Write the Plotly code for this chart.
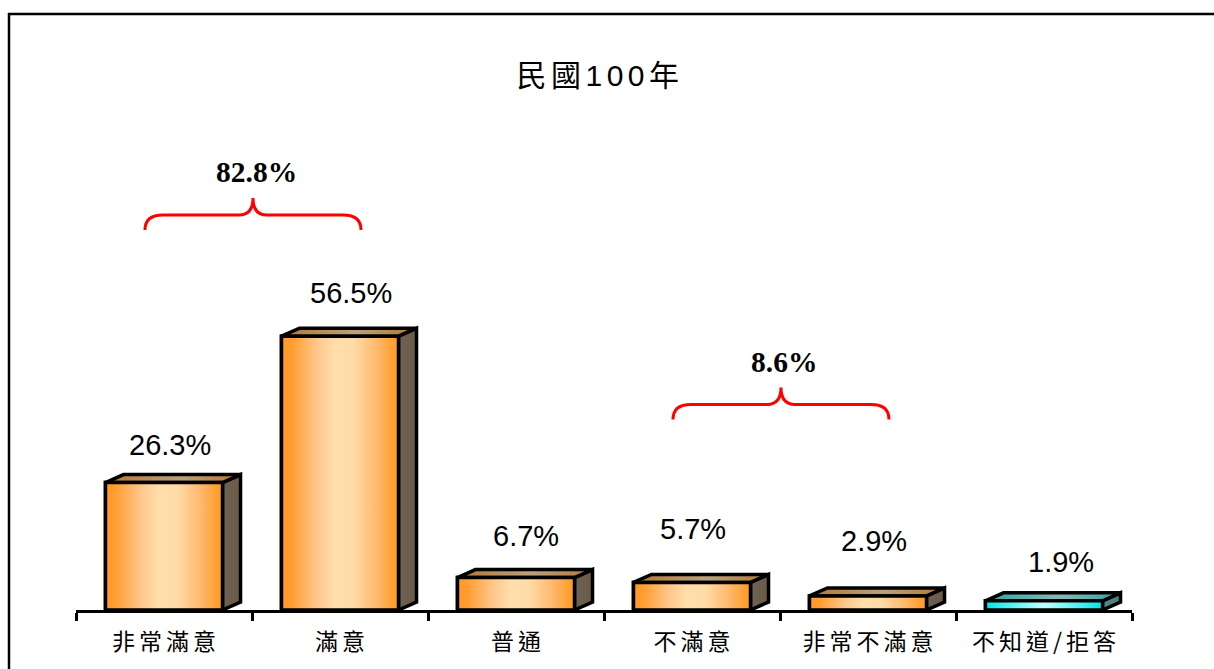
import plotly.graph_objects as go

categories = ["非常滿意", "滿意", "普通", "不滿意", "非常不滿意", "不知道/拒答"]
values = [26.3, 56.5, 6.7, 5.7, 2.9, 1.9]
value_labels = ["26.3%", "56.5%", "6.7%", "5.7%", "2.9%", "1.9%"]
label_xshift = [6, 11, 10, 1, 6, 17]
label_yshift = [38, 43, 42, 53, 55, 39]
group_totals = ["82.8%", "8.6%"]
group_spans = [(0, 1), (3, 4)]
group_base = [78.4, 39.3]

ORANGE_FRONT = [[0, "#FF981F"], [0.1, "#FFA036"], [0.3, "#FFC68A"], [0.45, "#FFDDAB"], [0.62, "#FFDBA6"],
                [0.82, "#FFB76A"], [1, "#FF981F"]]
ORANGE_TOP = [[0, "#B5772F"], [0.55, "#B9A17F"], [1, "#B5772F"]]
ORANGE_SIDE = [[0, "#6E6255"], [1, "#6B5A45"]]
CYAN_FRONT = [[0, "#00E6E6"], [0.5, "#C4FFFF"], [1, "#00E6E6"]]
CYAN_TOP = [[0, "#2FA5A5"], [0.55, "#8CB6B6"], [1, "#2FA5A5"]]
CYAN_SIDE = [[0, "#558A8A"], [1, "#4A7C7C"]]
front_scales = [ORANGE_FRONT] * 5 + [CYAN_FRONT]
top_scales = [ORANGE_TOP] * 5 + [CYAN_TOP]
side_scales = [ORANGE_SIDE] * 5 + [CYAN_SIDE]

PX_PER_CAT = 176.0
PX_PER_PCT = 4.85
BAR_W = 0.665
DX = 18 / PX_PER_CAT
DY = 8 / PX_PER_PCT
LW = 3.5
LABEL_FONT = "Liberation Sans, Arial, sans-serif"
CJK_FONT = "Noto Sans CJK TC, sans-serif"

fig = go.Figure()
fig.add_trace(go.Bar(x=categories, y=values, width=BAR_W,
                     marker=dict(color="#FF981F", line=dict(color="black", width=LW)),
                     hoverinfo="x+y", showlegend=False))


def poly(xs, ys, scale):
    fig.add_trace(go.Scatter(x=xs, y=ys, xaxis="x2", mode="lines", fill="toself",
                             fillgradient=dict(type="horizontal", colorscale=scale),
                             line=dict(color="black", width=LW, shape="linear"),
                             hoverinfo="skip", showlegend=False))


for i, v in enumerate(values):
    x0, x1 = i - BAR_W / 2, i + BAR_W / 2
    poly([x1, x1 + DX, x1 + DX, x1, x1], [0, DY, v + DY, v, 0], side_scales[i])
    poly([x0, x0 + DX, x1 + DX, x1, x0], [v, v + DY, v + DY, v, v], top_scales[i])
    poly([x0, x1, x1, x0, x0], [0, 0, v, v, 0], front_scales[i])

annotations = []
for i, v in enumerate(values):
    annotations.append(dict(x=i, y=v, xref="x2", yref="y", text=value_labels[i], showarrow=False,
                            xshift=label_xshift[i], yshift=label_yshift[i],
                            font=dict(family=LABEL_FONT, size=29, color="black")))

shapes = [
    dict(type="line", xref="paper", yref="paper", x0=-68 / 1056, x1=(1214 - 76) / 1056,
         y0=1 - 14 / 610.5, y1=1 - 14 / 610.5, line=dict(color="black", width=2.5), layer="above"),
    dict(type="line", xref="paper", yref="paper", x0=-67 / 1056, x1=-67 / 1056,
         y0=-0.2, y1=1 - 13 / 610.5, line=dict(color="black", width=2.5), layer="above"),
]

R1 = 18 / PX_PER_CAT
R1Y = 15 / PX_PER_PCT
R2 = 14 / PX_PER_CAT
PEAK = 32 / PX_PER_PCT
HALF = 108 / PX_PER_CAT
NUDGE = 1 / PX_PER_CAT
for (a, b), base, total in zip(group_spans, group_base, group_totals):
    c = (a + b) / 2 + NUDGE
    xl, xr = c - HALF, c + HALF
    yl = base + R1Y
    yp = base + PEAK
    path = (f"M {xl} {base} Q {xl} {yl} {xl + R1} {yl} L {c - R2} {yl} Q {c} {yl} {c} {yp} "
            f"Q {c} {yl} {c + R2} {yl} L {xr - R1} {yl} Q {xr} {yl} {xr} {base}")
    shapes.append(dict(type="path", path=path, xref="x2", yref="y", line=dict(color="#FF0000", width=3)))
    annotations.append(dict(x=c, y=yp, xref="x2", yref="y", text=f"<b>{total}</b>", showarrow=False,
                            xshift=3, yshift=26, font=dict(family="Liberation Serif, Times New Roman, serif",
                                                           size=29.5, color="black")))

fig.update_layout(
    width=1214, height=669, autosize=False,
    paper_bgcolor="white", plot_bgcolor="white",
    margin=dict(l=76, r=82, t=0, b=58.5, pad=0),
    bargap=0.335,
    title=dict(text="民國100年", x=600 / 1214, xanchor="center", y=1 - 75 / 669, yanchor="middle",
               font=dict(family="Liberation Sans, Noto Sans CJK TC, sans-serif", size=30, color="black")),
    xaxis=dict(type="category", categoryorder="array", categoryarray=categories, range=[-0.5, 5.5],
               tickson="boundaries", ticks="outside", ticklen=8, tickwidth=2.5, tickcolor="black",
               showline=True, linecolor="black", linewidth=2.5, showgrid=False, zeroline=False,
               fixedrange=True, ticklabelstandoff=10,
               tickfont=dict(family=CJK_FONT, size=23, color="black")),
    xaxis2=dict(overlaying="x", matches=None, range=[-0.5, 5.5], visible=False, fixedrange=True),
    yaxis=dict(range=[0, 610.5 / PX_PER_PCT], visible=False, fixedrange=True, showgrid=False, zeroline=False),
    shapes=shapes, annotations=annotations,
)

post = """
document.body.style.margin='0';document.body.style.overflow='hidden';
document.querySelectorAll('.xtick text').forEach(function(t){t.style.letterSpacing='4px';t.setAttribute('dx','2');});
document.querySelectorAll('.gtitle').forEach(function(t){t.style.letterSpacing='4.5px';});
"""
fig.write_html("out.html", post_script=post, config=dict(displayModeBar=False))
